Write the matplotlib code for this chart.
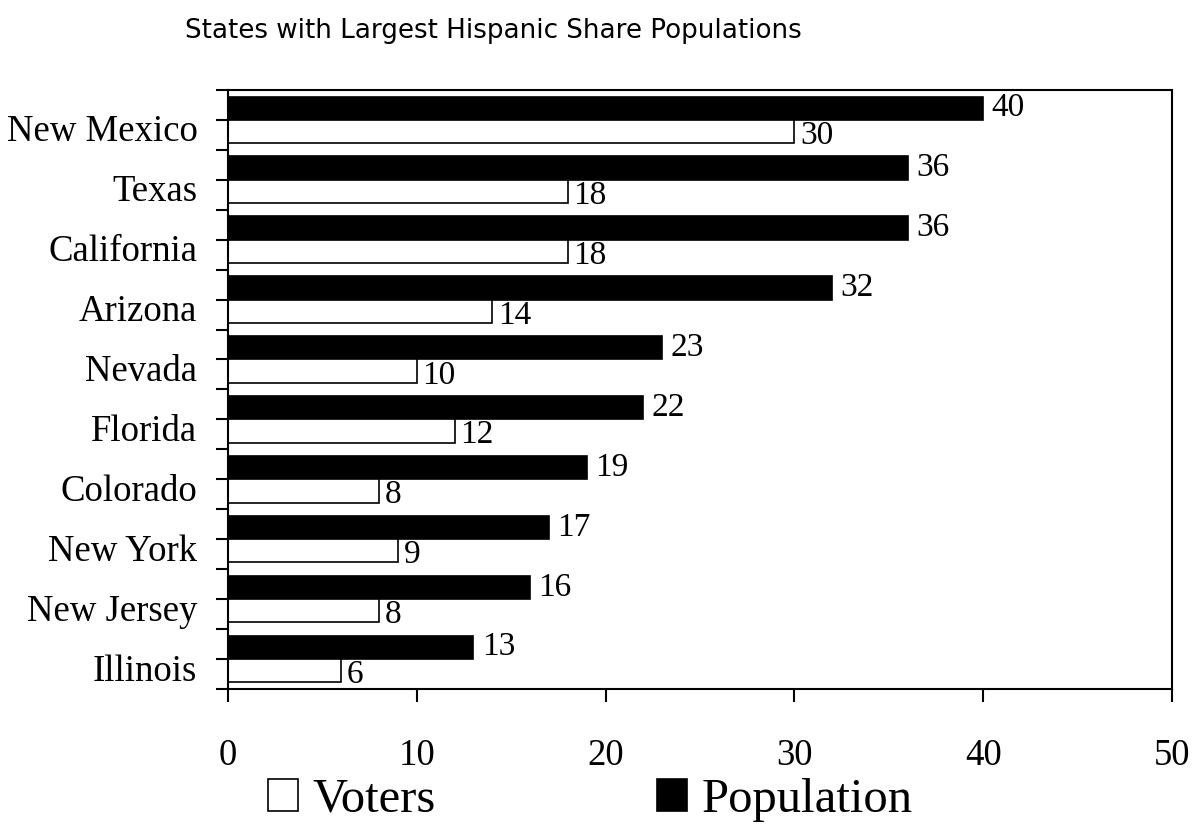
import numpy as np
import matplotlib.pyplot as plt
import matplotlib.transforms as mtransforms
from matplotlib.patches import Patch

states = ["New Mexico", "Texas", "California", "Arizona", "Nevada",
          "Florida", "Colorado", "New York", "New Jersey", "Illinois"]
population = [40, 36, 36, 32, 23, 22, 19, 17, 16, 13]
voters = [30, 18, 18, 14, 10, 12, 8, 9, 8, 6]

serif = "Liberation Serif"
fsize = 24

fig = plt.figure(figsize=(11.94, 8.25), dpi=100)
ax = fig.add_axes([0.191, 0.165, 0.7906, 0.726])

y = np.arange(len(states))
bh = 0.39
ax.barh(y - bh / 2, population, height=bh, color="black", edgecolor="black", linewidth=1.2)
ax.barh(y + bh / 2, voters, height=bh, color="white", edgecolor="black", linewidth=1.2)

for i in range(len(states)):
    ax.annotate(str(population[i]), (population[i], y[i] - bh / 2), xytext=(6, 0),
                textcoords="offset points", va="center", ha="left",
                fontsize=fsize, family=serif)
    ax.annotate(str(voters[i]), (voters[i], y[i] + bh / 2), xytext=(4, -3),
                textcoords="offset points", va="center", ha="left",
                fontsize=fsize, family=serif)

ax.set_xlim(0, 50)
ax.set_ylim(len(states) - 0.5, -0.5)
ax.set_xticks(np.arange(0, 51, 10))
ax.set_yticks(y)
ax.set_yticklabels(states)
ax.set_yticks(np.arange(-0.5, len(states), 1), minor=True)

for s in ax.spines.values():
    s.set_linewidth(1.5)
ax.tick_params(axis="both", which="both", direction="out", length=9, width=1.5)
ax.tick_params(axis="x", pad=27)
ax.tick_params(axis="y", pad=13)
for lab in ax.get_xticklabels():
    lab.set_fontsize(26.5)
    lab.set_family(serif)
for lab in ax.get_yticklabels():
    lab.set_fontsize(26.5)
    lab.set_family(serif)

# category labels sit a little below the center tick
shift = mtransforms.ScaledTranslation(0, -6 / 72, fig.dpi_scale_trans)
for lab in ax.get_yticklabels():
    lab.set_transform(lab.get_transform() + shift)

fig.text(185 / 1194, 1 - 31 / 825, "States with Largest Hispanic Share Populations",
         fontsize=18.8, family="DejaVu Sans", ha="left", va="center")

handles = [Patch(facecolor="white", edgecolor="black", linewidth=1.2),
           Patch(facecolor="black", edgecolor="black", linewidth=1.2)]
fig.legend(handles, ["Voters", "Population"], loc="center left",
           bbox_to_anchor=(268 / 1194, 1 - 800 / 825), ncol=2, frameon=False,
           prop={"family": serif, "size": 35}, handlelength=0.62, handleheight=0.62,
           handletextpad=0.3, columnspacing=4.55, borderpad=0, borderaxespad=0)

plt.savefig("out.png", dpi=100)
